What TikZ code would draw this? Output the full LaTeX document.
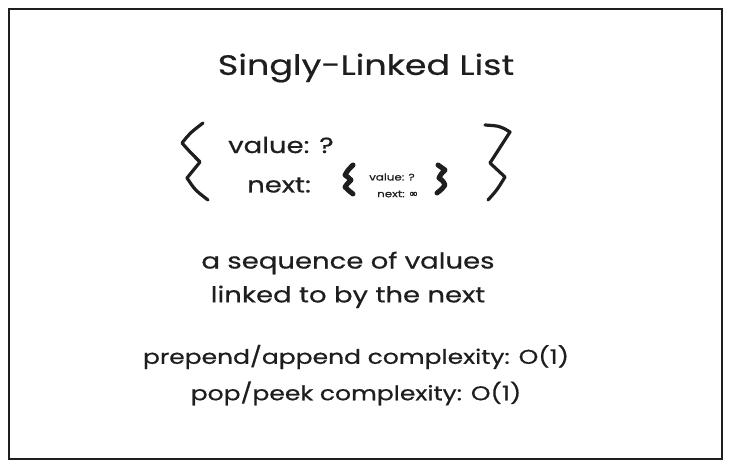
\documentclass[tikz,border=0pt]{standalone}
\usepackage{fontspec}
\setmainfont[FakeStretch=1.25, FakeBold=0.6]{Poppins}
\usepackage{tikz}
\usetikzlibrary{positioning}
\newfontfamily\symfont[FakeBold=2]{DejaVu Sans}
\definecolor{inkblack}{HTML}{1E1E1E}

\tikzset{
  handtext/.style={font=\fontsize{20}{24}\selectfont, text=inkblack, inner sep=0pt},
  smalltext/.style={font=\fontsize{9.5}{11}\selectfont, text=inkblack, inner sep=0pt},
  bigbrace/.style={draw=inkblack, line width=3.2pt, line cap=round, line join=round},
  smallbrace/.style={draw=inkblack, line width=5pt, line cap=round, line join=round}
}

\begin{document}
\begin{tikzpicture}[x=1pt, y=-1pt, node distance=2mm]
\useasboundingbox (0,0) rectangle (731,468);
\draw[draw=inkblack, line width=1.5pt] (9,9) rectangle (722,459);

\node[handtext, font=\fontsize{28}{32}\selectfont] (title) at (366,68) {Singly-Linked List};

% outer record
\node[handtext, font=\fontsize{22}{26}\selectfont, anchor=west] (val) at (228,145) {value: ?};
\node[handtext, font=\fontsize{22}{26}\selectfont, anchor=west] (nxt) at (247,185) {next:};
\node[smalltext, anchor=west] (innerval) at (369,177) {value: ?};
\node[smalltext, anchor=west] (innernxt) at (377,194) {next: {\symfont\fontsize{11}{11}\selectfont ∞}};

\draw[bigbrace] (203,123) .. controls (190,133) .. (182,143) .. controls (190,152) .. (200,162)
  .. controls (193,170) .. (187,178) .. controls (195,190) .. (208,200);
\draw[bigbrace] (485,125) .. controls (500,126) .. (510,132) .. controls (500,148) .. (490,163)
  .. controls (498,170) .. (505,177) .. controls (497,190) .. (488,200);

\draw[smallbrace] (353,165) .. controls (348,170) .. (345,175) .. controls (349,178) .. (351,180)
  .. controls (347,184) .. (345,187) .. controls (348,190) .. (353,194);
\draw[smallbrace] (438,165) .. controls (442,167) .. (445,170) .. controls (441,174) .. (439,178)
  .. controls (443,181) .. (445,185) .. controls (442,189) .. (437,193);

\node[handtext, font=\fontsize{22}{26}\selectfont] (desc1) at (348,263) {a sequence of values};
\node[handtext, font=\fontsize{22}{26}\selectfont, below=11pt of desc1] (desc2) {linked to by the next};

\node[handtext] (cplx1) at (356,357) {prepend/append complexity: O(1)};
\node[handtext, below=12pt of cplx1] (cplx2) {pop/peek complexity: O(1)};
\end{tikzpicture}
\end{document}
